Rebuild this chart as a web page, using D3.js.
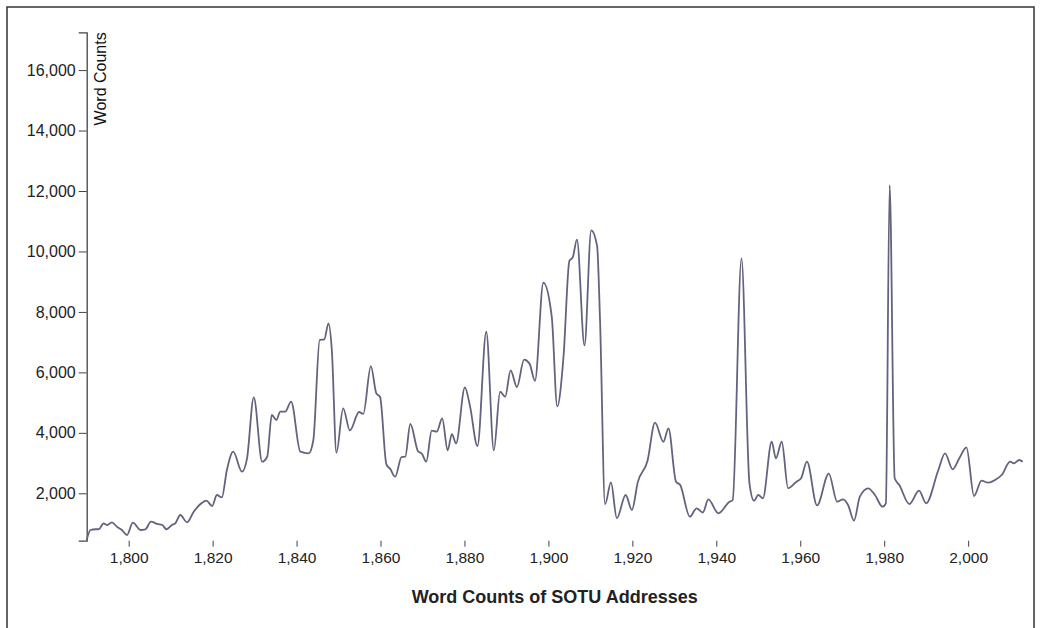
<!DOCTYPE html>
<html>
<head>
<meta charset="utf-8">
<script src="https://cdn.jsdelivr.net/npm/d3@7"></script>
<style>
  html, body { margin: 0; padding: 0; background: #fff; }
  svg { display: block; font-family: "Liberation Sans", Arial, Helvetica, sans-serif; }
  .axis text { fill: #222; }
  .axis line, .axis path { stroke: #444; }
</style>
</head>
<body>
<svg id="chart" width="1041" height="628"></svg>
<script>
// Years and word counts of the SOTU addresses
const years = [
  1790, 1790.9, 1792.1, 1792.9, 1794, 1794.9, 1796, 1797.2, 1798.4, 1799.6,
  1801, 1802.8, 1804, 1805.3, 1806.8, 1808, 1809, 1810.3, 1811.1, 1812.3,
  1813.9, 1815.5, 1817.5, 1818.5, 1819.9, 1821, 1822.2, 1823.4, 1824.9, 1827,
  1828.2, 1829.8, 1831.8, 1833, 1834.1, 1835.2, 1836.1, 1837.3, 1838.7, 1840.9,
  1842.9, 1844, 1845.5, 1846.6, 1847.6, 1848.4, 1849.5, 1851.1, 1852.7, 1854.9,
  1855.9, 1857.7, 1859, 1859.9, 1861.4, 1862.3, 1863.5, 1865, 1865.9, 1867.1,
  1869, 1869.8, 1870.9, 1872.2, 1873.4, 1874.7, 1876, 1877, 1878, 1880.1,
  1881.3, 1883.1, 1885.2, 1887, 1888.5, 1889.7, 1891, 1892.5, 1894.2, 1895.5,
  1896.8, 1898.8, 1900.8, 1902.1, 1903.6, 1905, 1905.8, 1906.8, 1908.6, 1910.2,
  1911.6, 1912.3, 1913.5, 1914.9, 1916.3, 1918.4, 1919.9, 1921.3, 1923.6, 1925.4,
  1927.4, 1928.6, 1930.4, 1931.4, 1933.7, 1935.3, 1936.8, 1938.1, 1940.5, 1943,
  1943.9, 1946, 1947.9, 1949, 1950, 1951.1, 1953.2, 1954.2, 1955.6, 1957.1,
  1959.1, 1960.2, 1961.6, 1964, 1966.8, 1968.8, 1970.2, 1971.4, 1972.8, 1974.2,
  1976.2, 1977.8, 1979.6, 1980.4, 1981.3, 1982.5, 1983.6, 1986, 1988.3, 1990,
  1992.9, 1994.5, 1996.3, 1997.9, 1999.6, 2001.4, 2003.2, 2004.8, 2006.4, 2008,
  2010, 2010.9, 2012.2, 2013
];
const wordCounts = [
  456, 786, 810, 810, 1008, 950, 1041, 895, 786, 621,
  1030, 786, 810, 1061, 985, 950, 810, 950, 1008, 1282,
  1041, 1392, 1690, 1755, 1580, 1944, 1868, 2770, 3376, 2714,
  3157, 5175, 3045, 3210, 4590, 4424, 4700, 4700, 5030, 3376,
  3323, 3763, 7070, 7093, 7622, 6740, 3343, 4811, 4080, 4690,
  4630, 6210, 5307, 5185, 2960, 2810, 2549, 3200, 3210, 4292,
  3376, 3323, 3045, 4070, 4037, 4480, 3420, 3960, 3653, 5505,
  4900, 3564, 7344, 3420, 5360, 5195, 6065, 5515, 6420, 6290,
  5724, 8965, 7840, 4875, 6518, 9690, 9804, 10390, 6895, 10700,
  10180, 7732, 1640, 2360, 1173, 1944, 1448, 2370, 3070, 4335,
  3706, 4150, 2384, 2274, 1226, 1504, 1365, 1802, 1339, 1706,
  1778, 9771, 2331, 1755, 1944, 1835, 3706, 3157, 3706, 2165,
  2384, 2496, 3045, 1600, 2650, 1722, 1802, 1613, 1094, 1888,
  2165, 1944, 1557, 1669, 12195, 2496, 2274, 1646, 2086, 1669,
  2770, 3323, 2794, 3157, 3521, 1911, 2417, 2350, 2440, 2605,
  3045, 2992, 3101, 3045
];
const yDomain = [432, 17250];
const xTitle = "Word Counts of SOTU Addresses";
const yTitle = "Word Counts";

const data = years.map((yr, i) => ({ year: yr, words: wordCounts[i] }));

const svg = d3.select("#chart");

// frame
svg.append("rect")
  .attr("x", 7).attr("y", 7)
  .attr("width", 1027).attr("height", 640)
  .attr("fill", "none").attr("stroke", "#333").attr("stroke-width", 1.5);

const mLeft = 86.7, mRight = 1022.7, mTop = 32.3, mBottom = 540.7;

const x = d3.scaleLinear().domain([d3.min(years), d3.max(years)]).range([mLeft, mRight]);
const y = d3.scaleLinear().domain(yDomain).range([mBottom, mTop]);

// x axis
const gx = svg.append("g").attr("class", "axis x")
  .attr("transform", `translate(0,${mBottom})`)
  .call(d3.axisBottom(x).ticks(10).tickSize(6).tickPadding(5).tickFormat(d3.format(",")));
gx.select(".domain").remove();
gx.selectAll("text").style("font-size", "15.5px");

// y axis
const gy = svg.append("g").attr("class", "axis y")
  .attr("transform", `translate(${mLeft},0)`)
  .call(d3.axisLeft(y).ticks(10).tickSize(8).tickPadding(3).tickFormat(d3.format(",")));
gy.selectAll("text").style("font-size", "16px");
gy.select(".domain").attr("stroke-width", 1.3);

// y axis title
svg.append("text")
  .attr("transform", `translate(${mLeft + 19.5},${mTop}) rotate(-90)`)
  .attr("text-anchor", "end")
  .style("font-size", "16px")
  .attr("fill", "#111")
  .text(yTitle);

// x axis title
svg.append("text")
  .attr("x", (mLeft + mRight) / 2)
  .attr("y", 603)
  .attr("text-anchor", "middle")
  .style("font-size", "18px")
  .style("font-weight", "bold")
  .attr("fill", "#222")
  .text(xTitle);

// line
const line = d3.line()
  .x(d => x(d.year))
  .y(d => y(d.words))
  .curve(d3.curveMonotoneX);

svg.append("path")
  .datum(data)
  .attr("fill", "none")
  .attr("stroke", "#63637f")
  .attr("stroke-width", 1.8)
  .attr("d", line);
</script>
</body>
</html>
